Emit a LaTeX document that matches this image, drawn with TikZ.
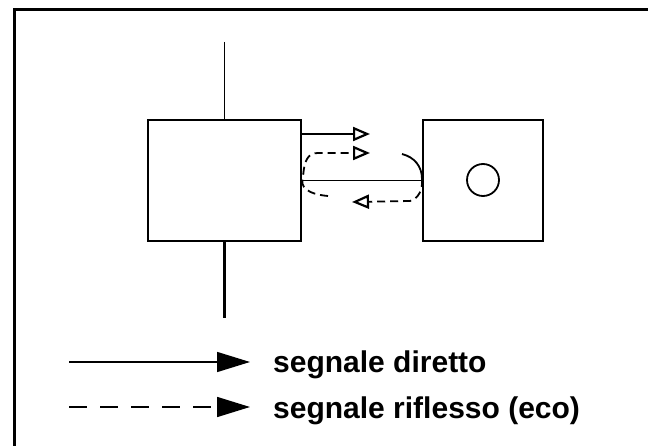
\documentclass[tikz,border=0pt]{standalone}
\usepackage{fontspec}
\setmainfont{Liberation Sans}
\usepackage{tikz}
\usetikzlibrary{arrows.meta,positioning}

\tikzset{
  unitbox/.style={draw, line width=2.2pt, rectangle, inner sep=0pt},
  direct/.style={line width=1.5pt},
  echo/.style={line width=1.8pt, dash pattern=on 8pt off 5pt},
  openhead/.style={-{Triangle[open, length=17pt, width=14pt, line width=2.2pt]}},
  fullhead/.style={-{Triangle[length=33pt, width=20pt]}}
}

\begin{document}
\begin{tikzpicture}[x=1pt, y=-1pt, font=\fontsize{30}{36}\selectfont\bfseries]
\useasboundingbox (0,0) rectangle (648,446);

% frame (top and left edge only)
\draw[line width=3pt] (14,446) -- (14,10) -- (648,10);

% 1. the two units
\node[unitbox, minimum width=153pt, minimum height=121pt] (tx) at (224.5,180.5) {};
\node[unitbox, minimum width=120pt, minimum height=121pt] (rx) at (483,180.5) {};
\node[circle, draw, line width=1.8pt, minimum size=32pt, inner sep=0pt] (obj) at (483,180) {};

% vertical line through the left unit
\coordinate (up) at (224.5,42);
\coordinate (down) at (224.5,318);
\draw[line width=1.3pt] (up) -- (tx.north);
\draw[line width=2.2pt] (tx.south) -- (down);

% 2. direct signal
\coordinate (d1) at (301,134);
\coordinate (d2) at (370,134);
\draw[direct, openhead] (d1) -- (d2);
\draw[direct] (tx.east) -- (rx.west);

% 3. echo, left side
\coordinate (e1) at (328,196);
\coordinate (e2) at (303,178);
\coordinate (e3) at (318,153);
\coordinate (e4) at (370,153);
\draw[echo, openhead] (e1) .. controls (306,194) and (300,186) .. (e2)
  .. controls (304,160) and (308,153) .. (e3) -- (e4);

% 4. echo, right side
\coordinate (r1) at (402,154);
\coordinate (r2) at (422,179);
\coordinate (r3) at (410,201);
\coordinate (r4) at (352,202);
\draw[line width=1.8pt] (r1) .. controls (414,157) and (422,166) .. (r2);
\draw[echo, openhead] (r2) .. controls (423,190) and (418,199) .. (r3) -- (r4);

% legend
\coordinate (l1) at (69,362);
\coordinate (l2) at (250,362);
\coordinate (l3) at (69,407);
\coordinate (l4) at (250,407);
\draw[line width=1.5pt, fullhead] (l1) -- (l2);
\draw[line width=1.6pt, dash pattern=on 18pt off 13pt, fullhead] (l3) -- (l4);
\node[anchor=base west, inner sep=0pt] (lgdirect) at (273,372) {segnale diretto};
\node[anchor=base west, inner sep=0pt] (lgecho) at (273,418) {segnale riflesso (eco)};

\end{tikzpicture}
\end{document}
